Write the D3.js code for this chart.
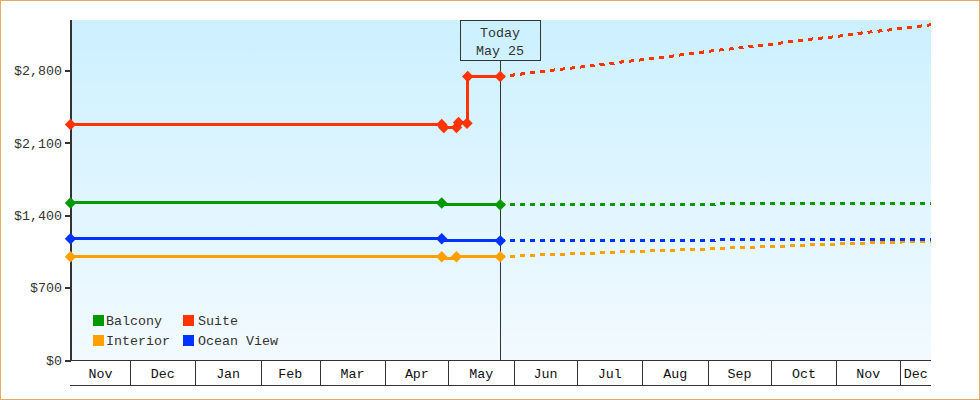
<!DOCTYPE html>
<html><head><meta charset="utf-8">
<script src="https://cdn.jsdelivr.net/npm/d3@7"></script>
<style>html,body{margin:0;padding:0;background:#fff}svg{display:block}text{font-family:"Liberation Mono",monospace;font-size:13.33px;fill:#333}</style>
</head><body><div id="c"></div>
<script>
const yTicks=[0,700,1400,2100,2800];
const months=["Nov","Dec","Jan","Feb","Mar","Apr","May","Jun","Jul","Aug","Sep","Oct","Nov","Dec"];
const monthStarts=["2024-11-03","2024-12-01","2025-01-01","2025-02-01","2025-03-01","2025-04-01","2025-05-01","2025-06-01","2025-07-01","2025-08-01","2025-09-01","2025-10-01","2025-11-01","2025-12-01","2025-12-16"];
const today="2025-05-25T18:00";
const seriesNames=["Balcony","Suite","Interior","Ocean View"];
const seriesColors=["#009900","#ff3300","#ffa000","#0033ff"];
// [date, price]
const suitePast=[["2024-11-03",2283],["2025-04-28",2283],["2025-04-29",2254],["2025-05-05",2254],["2025-05-06",2302],["2025-05-10",2295],["2025-05-10T08:00",2747],[today,2747]];
const suiteFuture=[[today,2747],["2025-05-30",2756],["2025-06-18",2805],["2025-07-04",2841],["2025-07-14",2863],["2025-07-23",2889],["2025-08-01",2908],["2025-08-11",2933],["2025-08-20",2957],["2025-09-03",2994],["2025-09-18",3027],["2025-10-03",3063],["2025-10-17",3102],["2025-10-31",3131],["2025-11-14",3170],["2025-11-28",3201],["2025-12-12",3237],["2025-12-16",3247]];
const balconyPast=[["2024-11-03",1524],["2025-04-28",1524],["2025-04-29",1506],[today,1506]];
const balconyFuture=[[today,1506],["2025-09-04",1506],["2025-09-05",1516],["2025-12-16",1516]];
const oceanPast=[["2024-11-03",1177],["2025-04-28",1177],["2025-04-29",1157],[today,1157]];
const oceanFuture=[[today,1157],["2025-09-04",1157],["2025-09-05",1167],["2025-12-16",1167]];
const interiorPast=[["2024-11-03",1003],["2025-04-28",1003],["2025-04-29",984],["2025-05-04",984],["2025-05-05",1003],[today,1003]];
const interiorFuture=[[today,1003],["2025-05-31",1003],["2025-06-05",1013],["2025-06-15",1022],["2025-06-29",1032],["2025-07-13",1042],["2025-07-23",1051],["2025-08-06",1061],["2025-08-20",1071],["2025-09-03",1080],["2025-09-13",1090],["2025-09-27",1100],["2025-10-11",1109],["2025-10-21",1119],["2025-11-04",1129],["2025-11-18",1138],["2025-11-28",1144],["2025-12-12",1151],["2025-12-16",1154]];
const pastMarks={Balcony:["2024-11-03","2025-04-28",today],Suite:suitePast.map(d=>d[0]),Interior:["2024-11-03","2025-04-28","2025-05-05",today],"Ocean View":["2024-11-03","2025-04-28",today]};
const drawn=[["Interior",interiorPast,interiorFuture,2],["Ocean View",oceanPast,oceanFuture,3],["Balcony",balconyPast,balconyFuture,0],["Suite",suitePast,suiteFuture,1]];

const W=980,H=400;
const pd=s=>new Date(s.length>10?s+":00Z":s+"T00:00:00Z");
const x=d3.scaleUtc().domain([pd(monthStarts[0]),pd(monthStarts[14])]).range([70.5,931]);
const y=d3.scaleLinear().domain([0,2800]).range([360,70.5]);
const svg=d3.select("#c").append("svg").attr("width",W).attr("height",H).attr("viewBox","0 0 980 400");
const defs=svg.append("defs");
const g=defs.append("linearGradient").attr("id","bg").attr("x1",0).attr("y1",0).attr("x2",0).attr("y2",1);
g.append("stop").attr("offset",0).attr("stop-color","#ccf0ff");
g.append("stop").attr("offset",1).attr("stop-color","#f2faff");
svg.append("rect").attr("x",0.5).attr("y",0.5).attr("width",979).attr("height",399).attr("fill","#fff").attr("stroke","#e8aa60");
svg.append("rect").attr("x",71).attr("y",20).attr("width",860).attr("height",340).attr("fill","url(#bg)");

// y axis
const ya=d3.axisLeft(y).tickValues(yTicks).tickSize(6).tickPadding(3).tickFormat(d=>"$"+d3.format(",")(d));
const yg=svg.append("g").attr("transform","translate(71,0)").call(ya);
yg.select(".domain").remove();
yg.selectAll(".tick line").attr("stroke","#333").attr("stroke-width",2).attr("shape-rendering","crispEdges");
yg.selectAll("text").attr("fill","#333").style("font-family",'"Liberation Mono",monospace').style("font-size","13.33px");
svg.append("line").attr("x1",71).attr("x2",71).attr("y1",20).attr("y2",361).attr("stroke","#333").attr("stroke-width",2);

// today line
const tx=Math.round(x(pd(today))-.5)+.5;
svg.append("line").attr("x1",tx).attr("x2",tx).attr("y1",60).attr("y2",360).attr("stroke","#333");

const line=d3.line().x(d=>x(pd(d[0]))).y(d=>y(d[1])+.5);
const mark=d3.symbol().type(d3.symbolSquare).size(65);
drawn.forEach(([name,past,future,ci])=>{
  const c=seriesColors[ci];
  svg.append("path").attr("d",line(past)).attr("fill","none").attr("stroke",c).attr("stroke-width",3).attr("shape-rendering","crispEdges");
  svg.append("path").attr("d",line(future)).attr("fill","none").attr("stroke",c).attr("stroke-width",3).attr("stroke-dasharray","5 5").attr("shape-rendering","crispEdges");
  const marks=pastMarks[name].map(dt=>past.find(p=>p[0]===dt)).filter(Boolean);
  svg.selectAll(null).data(marks).join("path").attr("d",mark).attr("fill",c)
    .attr("transform",d=>`translate(${x(pd(d[0]))},${y(d[1])+.5}) rotate(45)`);
});

// month strip
svg.append("line").attr("x1",70).attr("x2",931).attr("y1",360.5).attr("y2",360.5).attr("stroke","#333");
svg.append("line").attr("x1",70).attr("x2",931).attr("y1",385.5).attr("y2",385.5).attr("stroke","#333");
months.forEach((m,i)=>{
  const a=x(pd(monthStarts[i])),b=x(pd(monthStarts[i+1]));
  if(i<13){const bx=Math.round(b+.2)+.5;svg.append("line").attr("x1",bx).attr("x2",bx).attr("y1",360).attr("y2",385).attr("stroke","#333");}
  svg.append("text").attr("x",(a+b)/2+.5).attr("y",378).attr("text-anchor","middle").style("fill","#111").text(m);
});

// today box
svg.append("rect").attr("x",460.5).attr("y",20.5).attr("width",80).attr("height",40).attr("fill","none").attr("stroke","#333");
svg.append("text").attr("x",500).attr("y",37).attr("text-anchor","middle").text("Today");
svg.append("text").attr("x",500).attr("y",55).attr("text-anchor","middle").text("May 25");

// legend
const legX=[93,183],legTextX=[106,198],legY=[315,335];
seriesNames.forEach((n,i)=>{
  const lx=legX[i%2],ly=legY[Math.floor(i/2)];
  svg.append("rect").attr("x",lx).attr("y",ly).attr("width",11).attr("height",11).attr("fill",seriesColors[i]);
  svg.append("text").attr("x",legTextX[i%2]).attr("y",ly+10).text(n);
});
</script></body></html>
